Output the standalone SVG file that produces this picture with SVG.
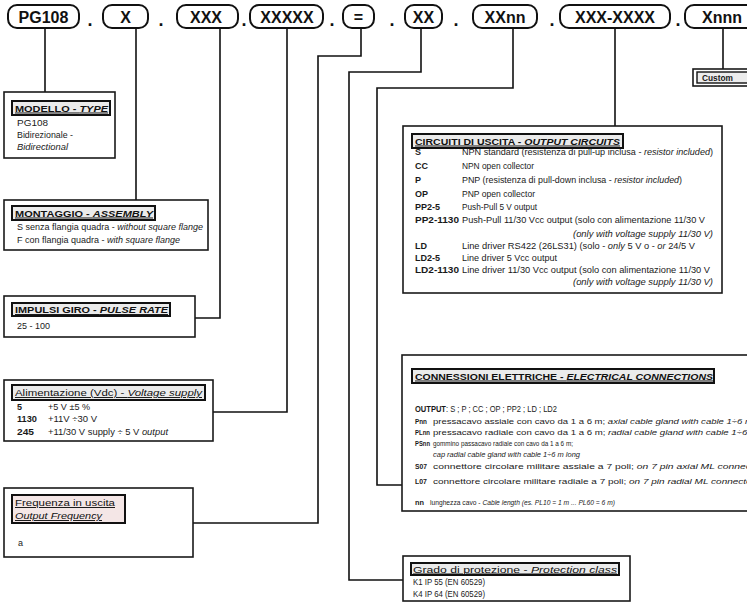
<svg xmlns="http://www.w3.org/2000/svg" width="747" height="602" viewBox="0 0 747 602">
<style>
.pill{fill:#fff;stroke:#111;stroke-width:2}
.code{font-family:"Liberation Sans",Arial,sans-serif;font-weight:bold;font-size:16px;fill:#111;text-anchor:middle}
.dot{font-family:"Liberation Sans",Arial,sans-serif;font-weight:bold;font-size:18px;fill:#111;text-anchor:middle}
.box{fill:#fff;stroke:#1a1a1a;stroke-width:1.6}
.tf{fill:#ebebeb;stroke:#111;stroke-width:2}
.tfp{fill:#f4e6e6;stroke:#111;stroke-width:2}
.tt{font-family:"Liberation Sans",Arial,sans-serif;font-size:9.5px;font-weight:bold;fill:#111;text-decoration:underline}
.tn{font-family:"Liberation Sans",Arial,sans-serif;font-size:9.5px;fill:#111;text-decoration:underline}
.t{font-family:"Liberation Sans",Arial,sans-serif;font-size:9px;fill:#1a1a1a}
.s{font-size:8px}
.i{font-style:italic}
.b{font-weight:bold}
.ln{fill:none;stroke:#111;stroke-width:1.6}
</style>

<g id="code">
  <g id="c-pg108"><rect class="pill" x="8" y="5" width="71" height="23" rx="9"/><text class="code" x="43.5" y="22.5">PG108</text></g>
  <text class="dot" x="90" y="26">.</text>
  <g id="c-x"><rect class="pill" x="103" y="5" width="45" height="23" rx="9"/><text class="code" x="125.5" y="22.5">X</text></g>
  <text class="dot" x="161" y="26">.</text>
  <g id="c-xxx"><rect class="pill" x="177" y="5" width="61" height="23" rx="9"/><text class="code" x="206" y="22.5">XXX</text></g>
  <text class="dot" x="244" y="26">.</text>
  <g id="c-xxxxx"><rect class="pill" x="250" y="5" width="73" height="23" rx="9"/><text class="code" x="287" y="22.5">XXXXX</text></g>
  <text class="dot" x="332" y="26">.</text>
  <g id="c-eq"><rect class="pill" x="343" y="5" width="31" height="23" rx="9"/><text class="code" x="358.5" y="22.5">=</text></g>
  <text class="dot" x="392" y="26">.</text>
  <g id="c-xx"><rect class="pill" x="405" y="5" width="37" height="23" rx="9"/><text class="code" x="423.5" y="22.5">XX</text></g>
  <text class="dot" x="456" y="26">.</text>
  <g id="c-xxnn"><rect class="pill" x="473" y="5" width="64" height="23" rx="9"/><text class="code" x="505" y="22.5">XXnn</text></g>
  <text class="dot" x="552" y="26">.</text>
  <g id="c-xxx-xxxx"><rect class="pill" x="560" y="5" width="110" height="23" rx="9"/><text class="code" x="615" y="22.5">XXX-XXXX</text></g>
  <text class="dot" x="678" y="26">.</text>
  <g id="c-xnnn"><rect class="pill" x="685" y="5" width="80" height="23" rx="9"/><text class="code" x="722" y="22.5">Xnnn</text></g>
</g>

<g id="connectors">
  <path class="ln" d="M45,28 V92"/>
  <path class="ln" d="M136,28 V200"/>
  <path class="ln" d="M220,28 V318 H195"/>
  <path class="ln" d="M287,28 V412 H213"/>
  <path class="ln" d="M361,28 V56 H318 V523 H193"/>
  <path class="ln" d="M421,28 V72 H349 V580 H403"/>
  <path class="ln" d="M513,28 V88 H377 V485 H402"/>
  <path class="ln" d="M615,28 V126"/>
  <path class="ln" d="M723,28 V69"/>
</g>

<g id="model">
  <rect class="box" x="4" y="92" width="111" height="66"/>
  <rect class="tf" x="12" y="101" width="98" height="14"/>
  <text class="tt" x="15" y="111.5" textLength="93" lengthAdjust="spacingAndGlyphs">MODELLO - <tspan class="i">TYPE</tspan></text>
  <text class="t" x="17" y="126" textLength="31" lengthAdjust="spacingAndGlyphs">PG108</text>
  <text class="t" x="17" y="138" textLength="56" lengthAdjust="spacingAndGlyphs">Bidirezionale -</text>
  <text class="t i" x="17" y="150" textLength="51" lengthAdjust="spacingAndGlyphs">Bidirectional</text>
</g>

<g id="assembly">
  <rect class="box" x="4" y="200" width="204" height="50"/>
  <rect class="tf" x="12" y="206" width="143" height="14"/>
  <text class="tt" x="15" y="216.5" textLength="138" lengthAdjust="spacingAndGlyphs">MONTAGGIO - <tspan class="i">ASSEMBLY</tspan></text>
  <text class="t" x="17" y="230" textLength="186" lengthAdjust="spacingAndGlyphs">S senza flangia quadra - <tspan class="i">without square flange</tspan></text>
  <text class="t" x="17" y="243" textLength="163" lengthAdjust="spacingAndGlyphs">F con flangia quadra - <tspan class="i">with square flange</tspan></text>
</g>

<g id="pulse">
  <rect class="box" x="4" y="296" width="191" height="41"/>
  <rect class="tf" x="12" y="303" width="158" height="13"/>
  <text class="tt" x="15" y="313" textLength="153" lengthAdjust="spacingAndGlyphs">IMPULSI GIRO - <tspan class="i">PULSE RATE</tspan></text>
  <text class="t" x="17" y="329" textLength="33" lengthAdjust="spacingAndGlyphs">25 - 100</text>
</g>

<g id="supply">
  <rect class="box" x="4" y="380" width="209" height="61"/>
  <rect class="tf" x="12" y="385" width="193" height="15"/>
  <text class="tn" x="15" y="396" textLength="187" lengthAdjust="spacingAndGlyphs">Alimentazione (Vdc) - <tspan class="i">Voltage supply</tspan></text>
  <text class="t b" x="17" y="410">5</text>
  <text class="t" x="48" y="410" textLength="42" lengthAdjust="spacingAndGlyphs">+5 V ±5 %</text>
  <text class="t b" x="17" y="422" textLength="20" lengthAdjust="spacingAndGlyphs">1130</text>
  <text class="t" x="48" y="422" textLength="49" lengthAdjust="spacingAndGlyphs">+11V ÷30 V</text>
  <text class="t b" x="17" y="435" textLength="17" lengthAdjust="spacingAndGlyphs">245</text>
  <text class="t" x="48" y="435" textLength="120" lengthAdjust="spacingAndGlyphs">+11/30 V supply ÷ 5 V <tspan class="i">output</tspan></text>
</g>

<g id="frequency">
  <rect class="box" x="4" y="488" width="189" height="69"/>
  <rect class="tfp" x="12" y="495" width="113" height="28"/>
  <text class="tn" x="15" y="506" textLength="100" lengthAdjust="spacingAndGlyphs">Frequenza in uscita</text>
  <text class="tn i" x="15" y="519" textLength="87" lengthAdjust="spacingAndGlyphs">Output Frequency</text>
  <text class="t" x="18" y="546">a</text>
</g>

<g id="output-circuits">
  <rect class="box" x="403" y="126" width="319" height="167"/>
  <rect class="tf" x="412" y="134" width="211" height="14"/>
  <text class="tt" x="415" y="144.5" textLength="205" lengthAdjust="spacingAndGlyphs">CIRCUITI DI USCITA - <tspan class="i">OUTPUT CIRCUITS</tspan></text>
  <text class="t b" x="415" y="155">S</text>
  <text class="t" x="462" y="155" textLength="251" lengthAdjust="spacingAndGlyphs">NPN standard (resistenza di pull-up inclusa - <tspan class="i">resistor included</tspan>)</text>
  <text class="t b" x="415" y="169">CC</text>
  <text class="t" x="462" y="169" textLength="72" lengthAdjust="spacingAndGlyphs">NPN open collector</text>
  <text class="t b" x="415" y="183">P</text>
  <text class="t" x="462" y="183" textLength="220" lengthAdjust="spacingAndGlyphs">PNP (resistenza di pull-down inclusa - <tspan class="i">resistor included</tspan>)</text>
  <text class="t b" x="415" y="197">OP</text>
  <text class="t" x="462" y="197" textLength="73" lengthAdjust="spacingAndGlyphs">PNP open collector</text>
  <text class="t b" x="415" y="210">PP2-5</text>
  <text class="t" x="462" y="210" textLength="75" lengthAdjust="spacingAndGlyphs">Push-Pull 5 V output</text>
  <text class="t b" x="415" y="223" textLength="44" lengthAdjust="spacingAndGlyphs">PP2-1130</text>
  <text class="t" x="462" y="223" textLength="243" lengthAdjust="spacingAndGlyphs">Push-Pull 11/30 Vcc output (solo con alimentazione 11/30 V</text>
  <text class="t i" x="573" y="237" textLength="140" lengthAdjust="spacingAndGlyphs">(only with voltage supply 11/30 V)</text>
  <text class="t b" x="415" y="249">LD</text>
  <text class="t" x="462" y="249" textLength="233" lengthAdjust="spacingAndGlyphs">Line driver RS422 (26LS31) (solo - <tspan class="i">only</tspan> 5 V o - <tspan class="i">or</tspan> 24/5 V</text>
  <text class="t b" x="415" y="261">LD2-5</text>
  <text class="t" x="462" y="261" textLength="95" lengthAdjust="spacingAndGlyphs">Line driver 5 Vcc output</text>
  <text class="t b" x="415" y="273" textLength="44" lengthAdjust="spacingAndGlyphs">LD2-1130</text>
  <text class="t" x="462" y="273" textLength="248" lengthAdjust="spacingAndGlyphs">Line driver 11/30 Vcc output (solo con alimentazione 11/30 V</text>
  <text class="t i" x="573" y="285" textLength="140" lengthAdjust="spacingAndGlyphs">(only with voltage supply 11/30 V)</text>
</g>

<g id="connections">
  <rect class="box" x="402" y="355" width="360" height="156"/>
  <rect class="tf" x="412" y="369" width="302" height="14"/>
  <text class="tt" x="415" y="379.5" textLength="298" lengthAdjust="spacingAndGlyphs">CONNESSIONI ELETTRICHE - <tspan class="i">ELECTRICAL CONNECTIONS</tspan></text>
  <text class="t" x="415" y="412" textLength="142" lengthAdjust="spacingAndGlyphs"><tspan class="b">OUTPUT</tspan>: S ; P ; CC ; OP ; PP2 ; LD ; LD2</text>
  <text class="t s b" x="415" y="424" textLength="12" lengthAdjust="spacingAndGlyphs">Pnn</text>
  <text class="t s" x="433" y="424" textLength="320" lengthAdjust="spacingAndGlyphs">pressacavo assiale con cavo da 1 a 6 m; <tspan class="i">axial cable gland with cable 1÷6 m</tspan></text>
  <text class="t s b" x="415" y="435" textLength="15" lengthAdjust="spacingAndGlyphs">PLnn</text>
  <text class="t s" x="433" y="435" textLength="325" lengthAdjust="spacingAndGlyphs">pressacavo radiale con cavo da 1 a 6 m; <tspan class="i">radial cable gland with cable 1÷6 m</tspan></text>
  <text class="t s b" x="415" y="446" textLength="15" lengthAdjust="spacingAndGlyphs">PSnn</text>
  <text class="t s" x="433" y="446" textLength="140" lengthAdjust="spacingAndGlyphs">gommino passacavo radiale con cavo da 1 a 6 m;</text>
  <text class="t s i" x="433" y="457" textLength="147" lengthAdjust="spacingAndGlyphs">cap radial cable gland with cable 1÷6 m long</text>
  <text class="t s b" x="415" y="469" textLength="12" lengthAdjust="spacingAndGlyphs">S07</text>
  <text class="t s" x="433" y="469" textLength="330" lengthAdjust="spacingAndGlyphs">connettore circolare militare assiale a 7 poli; <tspan class="i">on 7 pin axial ML connector</tspan></text>
  <text class="t s b" x="415" y="484" textLength="12" lengthAdjust="spacingAndGlyphs">L07</text>
  <text class="t s" x="433" y="484" textLength="322" lengthAdjust="spacingAndGlyphs">connettore circolare militare radiale a 7 poli; <tspan class="i">on 7 pin radial ML connector</tspan></text>
  <text class="t s b" x="415" y="505" textLength="9" lengthAdjust="spacingAndGlyphs">nn</text>
  <text class="t s" x="430" y="505" textLength="185" lengthAdjust="spacingAndGlyphs">lunghezza cavo - <tspan class="i">Cable length (es. PL10 = 1 m ... PL60 = 6 m)</tspan></text>
</g>

<g id="protection">
  <rect class="box" x="403" y="556" width="227" height="45"/>
  <rect class="tf" x="411" y="563" width="208" height="12"/>
  <text class="tn" x="413" y="572.5" textLength="204" lengthAdjust="spacingAndGlyphs">Grado di protezione - <tspan class="i">Protection class</tspan></text>
  <text class="t" x="413" y="585" textLength="72" lengthAdjust="spacingAndGlyphs">K1 IP 55 (EN 60529)</text>
  <text class="t" x="413" y="597" textLength="72" lengthAdjust="spacingAndGlyphs">K4 IP 64 (EN 60529)</text>
</g>

<g id="custom">
  <rect class="box" x="693" y="69" width="70" height="17"/>
  <rect fill="#ececec" stroke="#111" stroke-width="1.4" x="697" y="72" width="60" height="11"/>
  <text class="t b" x="702" y="81" textLength="31" lengthAdjust="spacingAndGlyphs">Custom</text>
</g>
</svg>
